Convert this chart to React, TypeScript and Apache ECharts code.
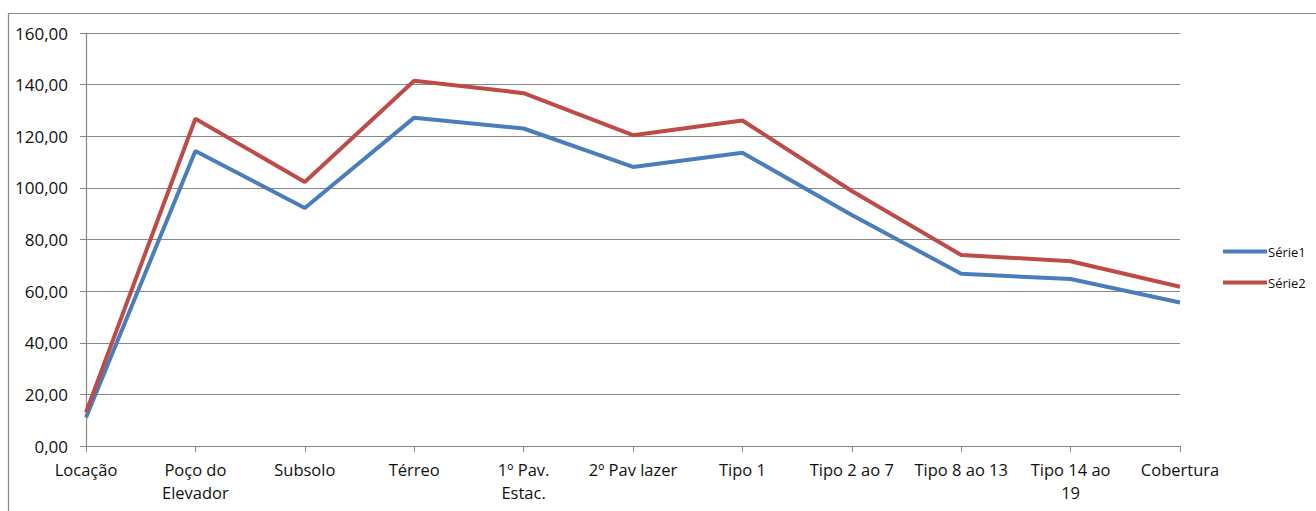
import React, { useEffect, useRef } from "react";
import * as echarts from "echarts";

const categories = [
  "Locação",
  "Poço do\nElevador",
  "Subsolo",
  "Térreo",
  "1º Pav.\nEstac.",
  "2º Pav lazer",
  "Tipo 1",
  "Tipo 2 ao 7",
  "Tipo 8 ao 13",
  "Tipo 14 ao\n19",
  "Cobertura",
];
const serie1 = [11, 114.3, 92.2, 127.2, 123, 108.1, 113.6, 89.5, 66.7, 64.7, 55.6];
const serie2 = [13, 126.8, 102.3, 141.5, 136.7, 120.4, 126.1, 98.8, 74, 71.6, 61.7];
const seriesNames = ["Série1", "Série2"];

const FONT = "Open Sans";
const GRAY = "#878787";

export default function App() {
  const ref = useRef<HTMLDivElement>(null);
  useEffect(() => {
    const chart = echarts.init(ref.current!, null, { renderer: "svg" });
    chart.setOption({
      animation: false,
      graphic: [
        {
          type: "rect",
          shape: { x: 8.5, y: 13.5, width: 1400, height: 600 },
          style: { fill: "none", stroke: GRAY, lineWidth: 1.2 },
          silent: true,
        },
      ],
      grid: { left: 86, right: 136, top: 33, bottom: 65, containLabel: false },
      legend: {
        orient: "vertical",
        left: 1218,
        top: 240,
        itemWidth: 44,
        itemHeight: 4,
        itemGap: 18,
        icon: "rect",
        textStyle: { fontFamily: FONT, fontSize: 13, color: "#111", padding: [0, 0, 0, -4] },
        data: seriesNames,
      },
      xAxis: {
        type: "category",
        data: categories,
        boundaryGap: false,
        axisLine: { lineStyle: { color: GRAY, width: 1.2 } },
        axisTick: { show: true, length: 6, alignWithLabel: true, lineStyle: { color: GRAY } },
        axisLabel: {
          interval: 0,
          margin: 12,
          fontFamily: FONT,
          fontSize: 16.5,
          lineHeight: 23,
          color: "#111",
        },
        splitLine: { show: false },
      },
      yAxis: {
        type: "value",
        min: 0,
        max: 160,
        interval: 20,
        axisLine: { show: true, lineStyle: { color: GRAY, width: 1.2 } },
        axisTick: { show: true, length: 6, lineStyle: { color: GRAY } },
        axisLabel: {
          margin: 18,
          fontFamily: FONT,
          fontSize: 17,
          color: "#111",
          formatter: (v: number) => v.toFixed(2).replace(".", ","),
        },
        splitLine: { lineStyle: { color: GRAY, width: 1.2 } },
      },
      series: [
        {
          name: seriesNames[0],
          type: "line",
          data: serie1,
          symbol: "none",
          lineStyle: { color: "#4A7EBB", width: 4 },
          itemStyle: { color: "#4A7EBB" },
        },
        {
          name: seriesNames[1],
          type: "line",
          data: serie2,
          symbol: "none",
          lineStyle: { color: "#BE4B48", width: 4 },
          itemStyle: { color: "#BE4B48" },
        },
      ],
    });
    return () => chart.dispose();
  }, []);
  return (
    <div
      ref={ref}
      style={{ position: "absolute", left: 0, top: 0, width: 1316, height: 511, background: "#fff" }}
    />
  );
}
